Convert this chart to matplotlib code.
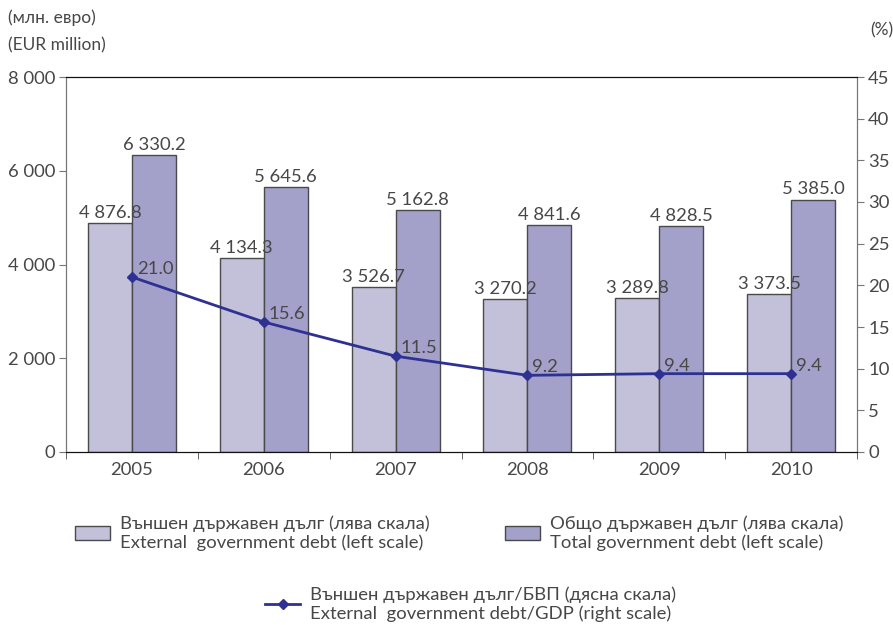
import matplotlib
matplotlib.use("Agg")
import matplotlib.pyplot as plt
from matplotlib.patches import Patch
from matplotlib.lines import Line2D
from matplotlib.ticker import FuncFormatter, FixedLocator
import numpy as np

plt.rcParams['font.family'] = ['Lato', 'DejaVu Sans']
plt.rcParams['font.weight'] = 'normal'

years = ['2005', '2006', '2007', '2008', '2009', '2010']
external_debt = [4876.8, 4134.3, 3526.7, 3270.2, 3289.8, 3373.5]
total_debt = [6330.2, 5645.6, 5162.8, 4841.6, 4828.5, 5385.0]
external_to_gdp = [21.0, 15.6, 11.5, 9.2, 9.4, 9.4]

light_col = '#c3c0d9'
dark_col = '#a3a1c9'
line_col = '#2e3192'
text_col = '#474747'
edge_col = '#4a4a4a'
fs = 13.3


def fmt_space(v, dec=0):
	s = '{:,.{d}f}'.format(v, d=dec)
	return s.replace(',', ' ')


fig = plt.figure(figsize=(8.93, 6.25), dpi=100)
ax = fig.add_axes([0.0739, 0.2768, 0.8858, 0.6000])
ax2 = ax.twinx()

x = np.arange(len(years))
w = 1.0 / 3

b1 = ax.bar(x - w / 2, external_debt, w, color=light_col, edgecolor=edge_col, linewidth=1.0)
b2 = ax.bar(x + w / 2, total_debt, w, color=dark_col, edgecolor=edge_col, linewidth=1.0)

# value labels above each bar
for bars, vals in ((b1, external_debt), (b2, total_debt)):
	for rect, v in zip(bars, vals):
		ax.annotate(fmt_space(v, 1), (rect.get_x() + rect.get_width() / 2, v),
			xytext=(0, 1.5), textcoords='offset points', ha='center', va='bottom',
			fontsize=fs, color=text_col)

ax2.plot(x, external_to_gdp, color=line_col, linewidth=2, marker='D', markersize=5.5)
for xi, v in zip(x, external_to_gdp):
	ax2.annotate('{:.1f}'.format(v), (xi, v), xytext=(3.5, 0), textcoords='offset points',
		ha='left', va='bottom', fontsize=fs, color=text_col)

ax.set_xlim(-0.5, len(years) - 0.5)
ax.set_ylim(0, 8000)
ax2.set_ylim(0, 45)

ax.set_yticks(range(0, 8001, 2000))
ax.yaxis.set_major_formatter(FuncFormatter(lambda v, p: fmt_space(v)))
ax2.set_yticks(range(0, 46, 5))

ax.set_xticks(x)
ax.set_xticklabels(years)
ax.xaxis.set_minor_locator(FixedLocator(np.arange(-0.5, len(years), 1.0)))
ax.tick_params(axis='x', which='major', length=0, pad=7, labelsize=fs, labelcolor=text_col)
ax.tick_params(axis='x', which='minor', length=5, color=edge_col)
ax.tick_params(axis='y', length=5, color='#777777', labelsize=fs, labelcolor=text_col, pad=3)
ax2.tick_params(axis='y', length=5, color='#777777', labelsize=fs, labelcolor=text_col, pad=3)

for a in (ax, ax2):
	a.spines['top'].set_color('#111111')
	a.spines['bottom'].set_color('#111111')
	a.spines['left'].set_color('#777777')
	a.spines['right'].set_color('#777777')

fig.text(8 / 893, 1 - 18 / 625, '(млн. евро)', fontsize=12.5, color=text_col, va='center')
fig.text(8 / 893, 1 - 45 / 625, '(EUR million)', fontsize=12.5, color=text_col, va='center')
fig.text(870 / 893, 1 - 30 / 625, '(%)', fontsize=12.5, color=text_col, va='center')

leg_kw = dict(frameon=False, fontsize=fs, handlelength=1.9, handleheight=0.8,
	labelcolor=text_col, borderaxespad=0, borderpad=0, handletextpad=0.55,
	labelspacing=0)
h1 = Patch(facecolor=light_col, edgecolor=edge_col)
h2 = Patch(facecolor=dark_col, edgecolor=edge_col)
h3 = Line2D([], [], color=line_col, linewidth=2, marker='D', markersize=5.5)
fig.legend([h1], ['Външен държавен дълг (лява скала)\nExternal  government debt (left scale)'],
	loc='center left', bbox_to_anchor=(75 / 893, 1 - 533 / 625), **leg_kw)
fig.legend([h2], ['Общо държавен дълг (лява скала)\nTotal government debt (left scale)'],
	loc='center left', bbox_to_anchor=(505 / 893, 1 - 533 / 625), **leg_kw)
fig.legend([h3], ['Външен държавен дълг/БВП (дясна скала)\nExternal  government debt/GDP (right scale)'],
	loc='center left', bbox_to_anchor=(265 / 893, 1 - 604 / 625), **leg_kw)

fig.savefig('out.png', dpi=100)
